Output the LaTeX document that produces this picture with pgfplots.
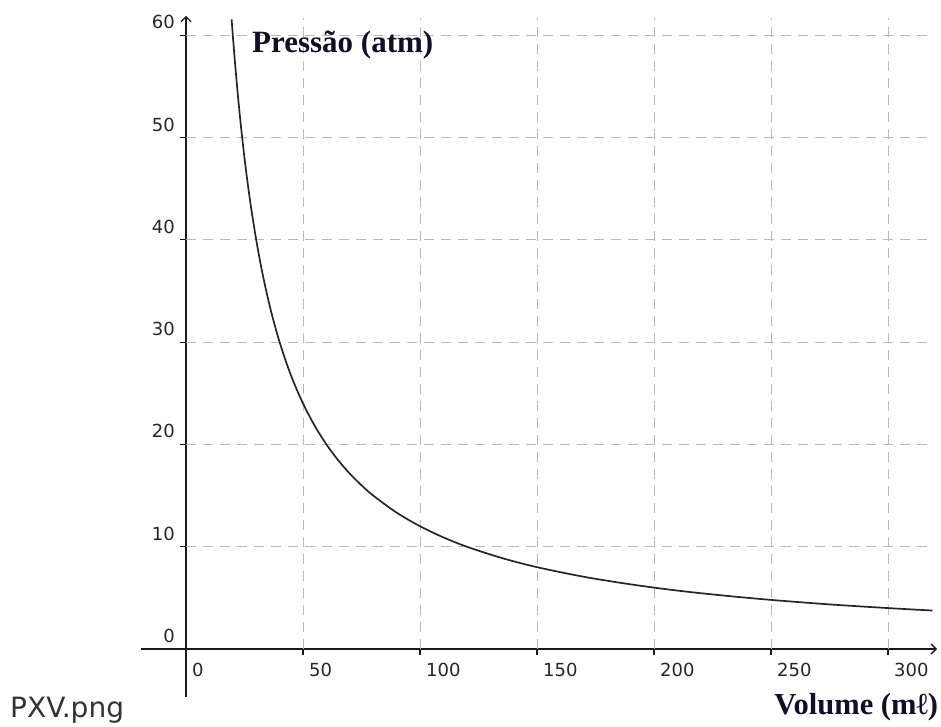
\documentclass[border=0pt]{standalone}
\usepackage{fontspec}
\setmainfont{Liberation Serif}
\newfontfamily\dv{DejaVu Sans}
\usepackage{pgfplots}
\pgfplotsset{compat=1.18}
\usetikzlibrary{arrows.meta}
\definecolor{titlec}{RGB}{15,15,40}
\definecolor{gridc}{RGB}{185,185,185}
\begin{document}
\begin{tikzpicture}
\path (0,0) rectangle (941pt,726pt);
\node[anchor=base west, inner sep=0pt, font=\dv\fontsize{28}{32}\selectfont, text=black!80] at (10pt,9pt) {PXV.png};
\begin{axis}[
  anchor=origin, at={(186pt,77pt)},
  x=2.34pt, y=10.23pt,
  xmin=-19.3, xmax=321, ymin=-4.7, ymax=61.9,
  axis lines=middle,
  axis line style={line width=1.6pt, black!90, -{Straight Barb[length=5pt,width=10pt,line width=1.4pt]}},
  clip=false,
  xtick={0,50,100,150,200,250,300},
  ytick={0,10,20,30,40,50,60},
  hide obscured x ticks=false, hide obscured y ticks=false,
  tick align=outside,
  major tick length=6pt,
  tick style={line width=1.2pt, black!90},
  /pgf/number format/assume math mode=true,
  ticklabel style={font=\dv\fontsize{18}{21}\selectfont, text=black!85, inner sep=0pt},
  xticklabel style={anchor=north west, xshift=6pt, yshift=-8pt},
  yticklabel style={anchor=south east, xshift=-5pt, yshift=6pt},
]
% grid lines
\addplot[gridc, line width=0.9pt, dash pattern=on 10pt off 7pt] coordinates {(50,0) (50,61.7)};
\addplot[gridc, line width=0.9pt, dash pattern=on 10pt off 7pt] coordinates {(100,0) (100,61.7)};
\addplot[gridc, line width=0.9pt, dash pattern=on 10pt off 7pt] coordinates {(150,0) (150,61.7)};
\addplot[gridc, line width=0.9pt, dash pattern=on 10pt off 7pt] coordinates {(200,0) (200,61.7)};
\addplot[gridc, line width=0.9pt, dash pattern=on 10pt off 7pt] coordinates {(250,0) (250,61.7)};
\addplot[gridc, line width=0.9pt, dash pattern=on 10pt off 7pt] coordinates {(300,0) (300,61.7)};
\addplot[gridc, line width=0.9pt, dash pattern=on 10pt off 7pt] coordinates {(0,10) (318,10)};
\addplot[gridc, line width=0.9pt, dash pattern=on 10pt off 7pt] coordinates {(0,20) (318,20)};
\addplot[gridc, line width=0.9pt, dash pattern=on 10pt off 7pt] coordinates {(0,30) (318,30)};
\addplot[gridc, line width=0.9pt, dash pattern=on 10pt off 7pt] coordinates {(0,40) (318,40)};
\addplot[gridc, line width=0.9pt, dash pattern=on 10pt off 7pt] coordinates {(0,50) (318,50)};
\addplot[gridc, line width=0.9pt, dash pattern=on 10pt off 7pt] coordinates {(0,60) (318,60)};
% curve
\addplot[black!85, line width=1.7pt, smooth] coordinates {
(19.5,61.54) (20,60) (21,57.14) (22,54.55) (23,52.17) (24,50) (25,48) (26,46.15)
(27,44.44) (28,42.86) (30,40) (32,37.5) (34,35.29) (36,33.33) (38,31.58) (40,30)
(43,27.91) (46,26.09) (50,24) (55,21.82) (60,20) (65,18.46) (70,17.14) (75,16)
(80,15) (90,13.33) (100,12) (110,10.91) (120,10) (135,8.89) (150,8) (170,7.06)
(190,6.32) (210,5.71) (230,5.22) (250,4.8) (275,4.36) (300,4) (319,3.76)
};
\node[anchor=base west, inner sep=0pt, font=\bfseries\fontsize{31}{36}\selectfont, text=titlec] at (axis cs:28.2,58.3) {Pressão (atm)};
\node[anchor=base east, inner sep=0pt, font=\bfseries\fontsize{30.5}{36}\selectfont, text=titlec] at (axis cs:321.5,-6.45) {Volume (mℓ)};
\end{axis}
\end{tikzpicture}
\end{document}
